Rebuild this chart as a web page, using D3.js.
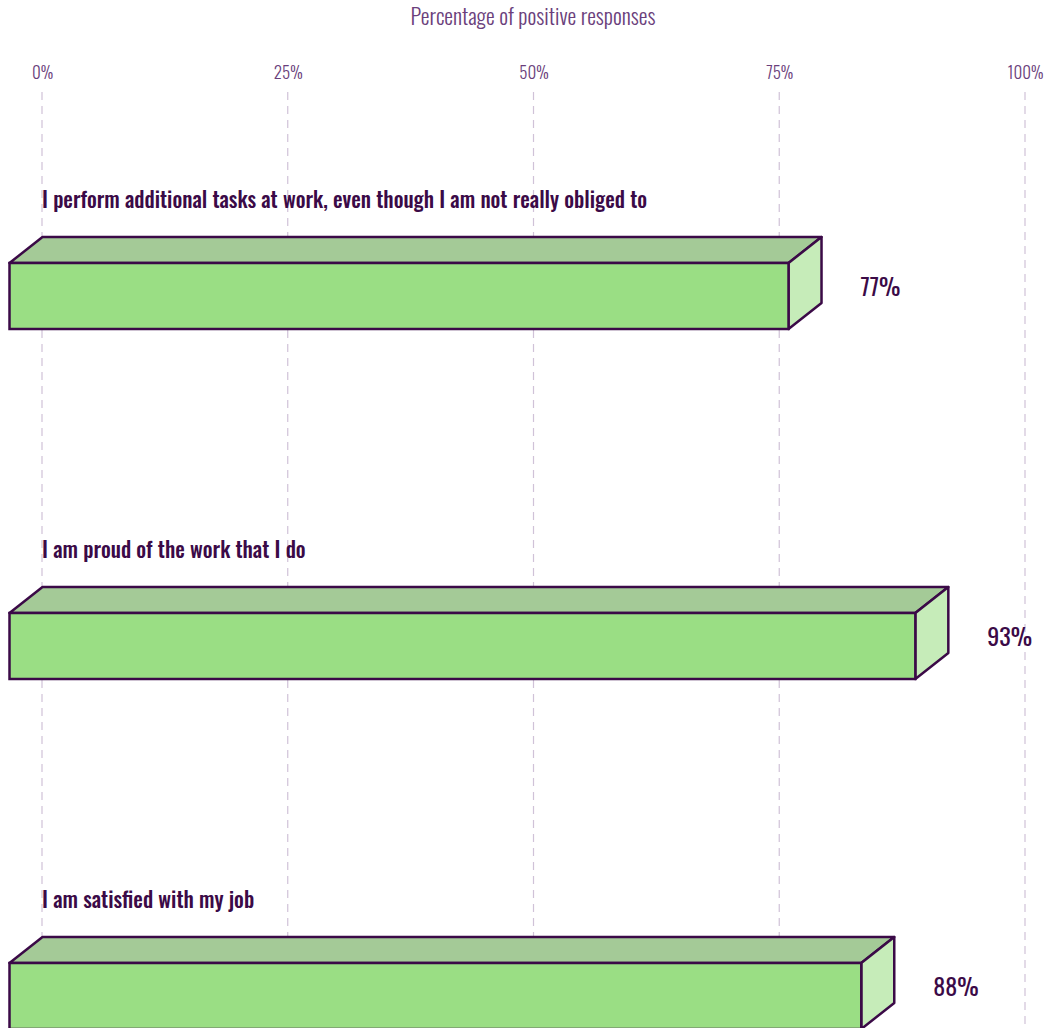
<!DOCTYPE html>
<html>
<head>
<meta charset="utf-8">
<script src="https://cdn.jsdelivr.net/npm/d3@7"></script>
<style>
  html, body { margin: 0; padding: 0; background: #fff; }
  svg { display: block; }
  text { font-family: "Oswald", "Liberation Sans Narrow", "DejaVu Sans Condensed", "Roboto Condensed", sans-serif; }
</style>
</head>
<body>
<svg id="chart" width="1051" height="1028"></svg>
<script>
// ---- data ----
const categories = [
  "I perform additional tasks at work, even though I am not really obliged to",
  "I am proud of the work that I do",
  "I am satisfied with my job"
];
// bar lengths as drawn in the picture (percent)
const barLengths = [79.3, 92.2, 86.7];
// value labels as printed
const valueLabels = ["77%", "93%", "88%"];
const tickValues = [0, 25, 50, 75, 100];
const axisTitle = "Percentage of positive responses";

// ---- layout ----
const W = 1051, H = 1028;
const svg = d3.select("#chart");
const x = d3.scaleLinear().domain([0, 100]).range([42, 1025]);
const y = d3.scalePoint().domain(categories).range([263, 963]);
const depthX = 33, depthY = 26, faceH = 66;

const stroke = "#3b0a47";

// title
svg.append("text")
  .attr("x", 533).attr("y", 25)
  .attr("text-anchor", "middle")
  .attr("font-size", 22).attr("font-weight", 300)
  .attr("fill", "#6b3f7c")
  .text(axisTitle);

// axis ticks + gridlines
const axis = d3.axisTop(x).tickValues(tickValues).tickFormat(d => d + "%").tickSize(0);
const gAxis = svg.append("g").attr("transform", "translate(0,79)").call(axis);
gAxis.select(".domain").remove();
gAxis.selectAll("text")
  .attr("y", 0).attr("dy", 0)
  .attr("font-size", 17).attr("font-weight", 300)
  .attr("fill", "#6b3f7c")
  .style("font-family", '"Oswald", "Liberation Sans Narrow", "DejaVu Sans Condensed", sans-serif');

svg.append("g").selectAll("line")
  .data(tickValues)
  .join("line")
  .attr("x1", d => x(d)).attr("x2", d => x(d))
  .attr("y1", 92).attr("y2", H)
  .attr("stroke", "#d0c2d8")
  .attr("stroke-width", 1.2)
  .attr("stroke-dasharray", "8,6");

// bars
const bars = svg.append("g").selectAll("g")
  .data(categories.map((c, i) => ({ c, v: barLengths[i], label: valueLabels[i] })))
  .join("g");

bars.each(function(d) {
  const g = d3.select(this);
  const x0 = x(0) - depthX + 0.5, x1 = x(d.v) - depthX;
  const top = y(d.c), bot = top + faceH;
  // top face
  g.append("path")
    .attr("d", `M${x0},${top} L${x0 + depthX},${top - depthY} L${x1 + depthX},${top - depthY} L${x1},${top} Z`)
    .attr("fill", "#a4ca97").attr("stroke", stroke).attr("stroke-width", 2.5).attr("stroke-linejoin", "round");
  // side face
  g.append("path")
    .attr("d", `M${x1},${top} L${x1 + depthX},${top - depthY} L${x1 + depthX},${bot - depthY} L${x1},${bot} Z`)
    .attr("fill", "#c6ecb9").attr("stroke", stroke).attr("stroke-width", 2.5).attr("stroke-linejoin", "round");
  // front face
  g.append("rect")
    .attr("x", x0).attr("y", top)
    .attr("width", x1 - x0).attr("height", faceH)
    .attr("fill", "#9ade84").attr("stroke", stroke).attr("stroke-width", 2.5);
  // category label
  g.append("text")
    .attr("x", x(0)).attr("y", top - depthY - 29)
    .attr("font-size", 21.5).attr("font-weight", 500)
    .attr("fill", stroke)
    .text(d.c);
  // value label
  g.append("text")
    .attr("x", x1 + depthX + 39).attr("y", top + faceH / 2)
    .attr("font-size", 24).attr("font-weight", 400)
    .attr("fill", stroke)
    .text(d.label);
});
</script>
</body>
</html>
